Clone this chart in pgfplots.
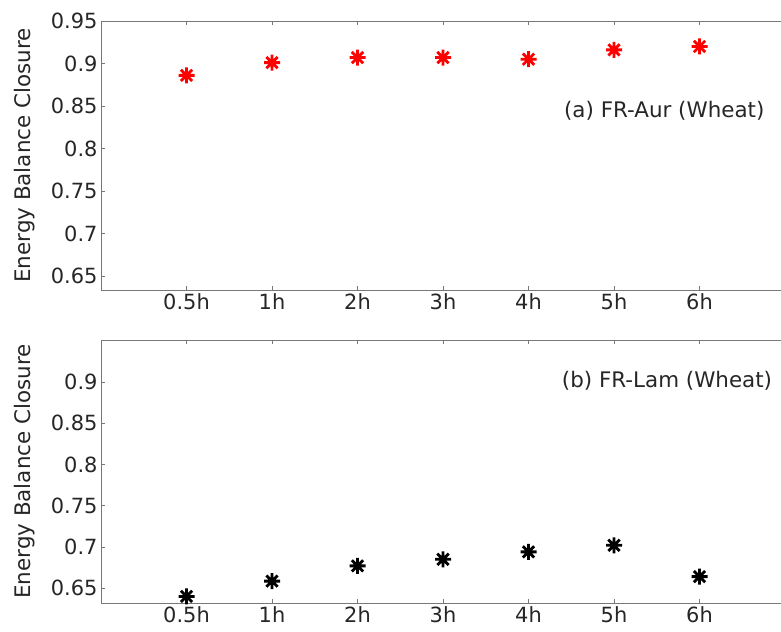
\documentclass[border=0pt]{standalone}
\usepackage{pgfplots}
\pgfplotsset{compat=1.18}
\usepackage{fontspec}
\setmainfont{DejaVu Sans}
\definecolor{txt}{RGB}{38,38,38}
\definecolor{axc}{RGB}{120,120,120}
\pgfdeclareplotmark{ast8}{%
 \pgfpathmoveto{\pgfqpoint{-\pgfplotmarksize}{0pt}}\pgfpathlineto{\pgfqpoint{\pgfplotmarksize}{0pt}}%
 \pgfpathmoveto{\pgfqpoint{0pt}{-\pgfplotmarksize}}\pgfpathlineto{\pgfqpoint{0pt}{\pgfplotmarksize}}%
 \pgfpathmoveto{\pgfqpoint{-.707\pgfplotmarksize}{-.707\pgfplotmarksize}}\pgfpathlineto{\pgfqpoint{.707\pgfplotmarksize}{.707\pgfplotmarksize}}%
 \pgfpathmoveto{\pgfqpoint{-.707\pgfplotmarksize}{.707\pgfplotmarksize}}\pgfpathlineto{\pgfqpoint{.707\pgfplotmarksize}{-.707\pgfplotmarksize}}%
 \pgfusepathqstroke}
\pgfplotsset{
 ebc/.style={
  scale only axis, width=684bp, xmin=0, xmax=8,
  xtick={1,2,3,4,5,6,7},
  xticklabels={0.5h,1h,2h,3h,4h,5h,6h},
  tick align=inside, major tick length=4bp,
  axis line style={axc, line width=0.8bp},
  every tick/.style={axc, line width=0.8bp},
  tick label style={txt, font=\fontsize{21}{25}\selectfont},
  label style={txt, font=\fontsize{21.5}{25}\selectfont},
  ylabel style={yshift=9bp},
  /pgf/number format/assume math mode=true,
  yticklabel style={/pgf/number format/fixed, /pgf/number format/precision=2},
  ylabel={Energy Balance Closure},
  anchor=south west,
 }
}
\begin{document}
\begin{tikzpicture}[x=1bp,y=1bp]
\useasboundingbox (0,0) rectangle (781,632);
\clip (0,0) rectangle (781,632);
\begin{axis}[ebc, at={(101bp,342bp)}, height=269bp,
  ymin=0.6335, ymax=0.95, ytick={0.65,0.7,0.75,0.8,0.85,0.9,0.95}]
\addplot[only marks, mark=ast8, mark size=8bp, red, line width=2.8bp] coordinates {
(1,0.886) (2,0.901) (3,0.907) (4,0.907) (5,0.905) (6,0.916) (7,0.920)};
\node[anchor=east, txt, font=\fontsize{21.5}{25}\selectfont] at (axis cs:7.8,0.844) {(a) FR-Aur (Wheat)};
\end{axis}
\begin{axis}[ebc, at={(101bp,29bp)}, height=263bp,
  ymin=0.632, ymax=0.951, ytick={0.65,0.7,0.75,0.8,0.85,0.9}]
\addplot[only marks, mark=ast8, mark size=8bp, black, line width=2.8bp] coordinates {
(1,0.640) (2,0.6585) (3,0.677) (4,0.685) (5,0.694) (6,0.702) (7,0.664)};
\node[anchor=east, txt, font=\fontsize{21.5}{25}\selectfont] at (axis cs:7.89,0.902) {(b) FR-Lam (Wheat)};
\end{axis}
\end{tikzpicture}
\end{document}
